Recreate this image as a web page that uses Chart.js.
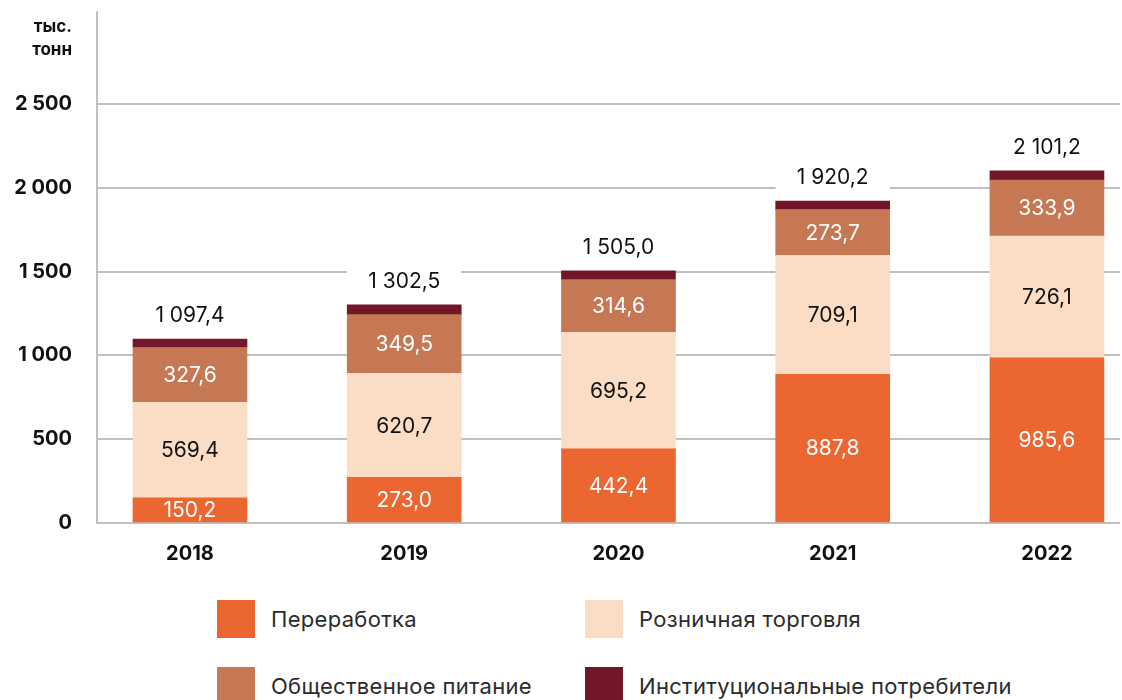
<!DOCTYPE html>
<html>
<head>
<meta charset="utf-8">
<script src="https://cdn.jsdelivr.net/npm/chart.js@4/dist/chart.umd.min.js"></script>
<style>
    body { margin: 0; background: #fff; font-family: Inter, "Noto Sans", sans-serif; }
    #wrap { position: relative; width: 1122px; height: 700px; overflow: hidden; }
    #box { position: absolute; left: 0; top: 0; width: 1122px; height: 590px; }
    .item { position: absolute; height: 38px; display: flex; align-items: center; font-size: 22px; letter-spacing: 0.3px; color: #2b2b2b; }
    .item span { display: inline-block; width: 38px; height: 38px; margin-right: 16px; }
</style>
</head>
<body>
<div id="wrap">
    <div id="box"><canvas id="chart"></canvas></div>
    <div id="legend"></div>
</div>
<script>
const years = ['2018', '2019', '2020', '2021', '2022'];
const seriesNames = ['Переработка', 'Розничная торговля', 'Общественное питание', 'Институциональные потребители'];
const pererabotka = [150.2, 273.0, 442.4, 887.8, 985.6];
const roznica = [569.4, 620.7, 695.2, 709.1, 726.1];
const obshchepit = [327.6, 349.5, 314.6, 273.7, 333.9];
const institut = [50.2, 59.3, 52.8, 49.6, 55.6];
const totals = [1097.4, 1302.5, 1505.0, 1920.2, 2101.2];
const yTicks = [0, 500, 1000, 1500, 2000, 2500];

const colors = ['#EC6632', '#FBDCC4', '#C57853', '#73162A'];
const labelColors = ['#fff', '#111', '#fff', null];

function fmt(v, dec) {
    const s = v.toFixed(dec);
    const parts = s.split('.');
    const int = parts[0].replace(/\B(?=(\d{3})+(?!\d))/g, ' ');
    return parts.length > 1 ? int + ',' + parts[1] : int;
}

const values = [pererabotka, roznica, obshchepit, institut];

const labelPlugin = {
    id: 'labels',
    afterDatasetsDraw(chart) {
        const ctx = chart.ctx;
        ctx.save();
        ctx.textAlign = 'center';
        ctx.textBaseline = 'middle';
        ctx.font = '21px Inter, "Noto Sans", sans-serif';
        for (let d = 0; d < 3; d++) {
            const meta = chart.getDatasetMeta(d);
            meta.data.forEach((bar, i) => {
                const p = bar.getProps(['x', 'y', 'base'], true);
                ctx.fillStyle = labelColors[d];
                ctx.fillText(fmt(values[d][i], 1), p.x, (p.y + p.base) / 2 + 1);
            });
        }
        // totals above the bars, on a white box that cuts the grid line
        const last = chart.getDatasetMeta(3);
        last.data.forEach((bar, i) => {
            const p = bar.getProps(['x', 'y', 'width'], true);
            const ly = p.y - 23;
            ctx.fillStyle = '#fff';
            ctx.fillRect(p.x - p.width / 2, ly - 15, p.width, 30);
            ctx.fillStyle = '#111';
            ctx.fillText(fmt(totals[i], 1), p.x, ly);
        });
        ctx.font = 'bold 17px Inter, "Noto Sans", sans-serif';
        ctx.textAlign = 'right';
        ctx.fillStyle = '#111';
        ctx.fillText('тыс.', 72, 27);
        ctx.fillText('тонн', 72, 50);
        ctx.restore();
    }
};

new Chart(document.getElementById('chart'), {
    type: 'bar',
    data: {
        datasets: values.map((arr, d) => ({
            label: seriesNames[d],
            data: arr.map((v, i) => ({ x: i, y: v })),
            backgroundColor: colors[d],
            barThickness: 114,
            borderWidth: 0
        }))
    },
    options: {
        responsive: true,
        maintainAspectRatio: false,
        animation: false,
        layout: { autoPadding: false, padding: { top: 12, right: 2, left: 0, bottom: 0 } },
        plugins: { legend: { display: false }, tooltip: { enabled: false } },
        scales: {
            x: {
                type: 'linear',
                stacked: true,
                offset: false,
                min: -0.434,
                max: 4.341,
                grid: { display: false, drawTicks: false },
                border: { display: false },
                afterBuildTicks: scale => { scale.ticks = years.map((_, i) => ({ value: i })); },
                afterFit: scale => { scale.height = 67; scale.paddingLeft = 0; scale.paddingRight = 0; },
                ticks: {
                    padding: 19,
                    maxRotation: 0,
                    color: '#111',
                    font: { family: 'Inter, "Noto Sans", sans-serif', size: 20, weight: 'bold' },
                    callback: v => years[v]
                }
            },
            y: {
                stacked: true,
                min: 0,
                max: 3049,
                afterBuildTicks: scale => { scale.ticks = yTicks.map(v => ({ value: v })); },
                afterFit: scale => { scale.width = 97; scale.paddingTop = 0; scale.paddingBottom = 0; },
                grid: { color: '#BFBFBF', lineWidth: 2, drawTicks: false },
                border: { display: true, color: '#BFBFBF', width: 2 },
                ticks: {
                    padding: 25,
                    color: '#111',
                    font: { family: 'Inter, "Noto Sans", sans-serif', size: 20, weight: 'bold' },
                    callback: v => fmt(v, 0)
                }
            }
        }
    },
    plugins: [labelPlugin]
});

const pos = [[217, 600], [585, 600], [217, 667], [585, 667]];
const legend = document.getElementById('legend');
seriesNames.forEach((name, i) => {
    const el = document.createElement('div');
    el.className = 'item';
    el.style.left = pos[i][0] + 'px';
    el.style.top = pos[i][1] + 'px';
    el.innerHTML = '<span style="background:' + colors[i] + '"></span>' + name;
    legend.appendChild(el);
});
</script>
</body>
</html>
